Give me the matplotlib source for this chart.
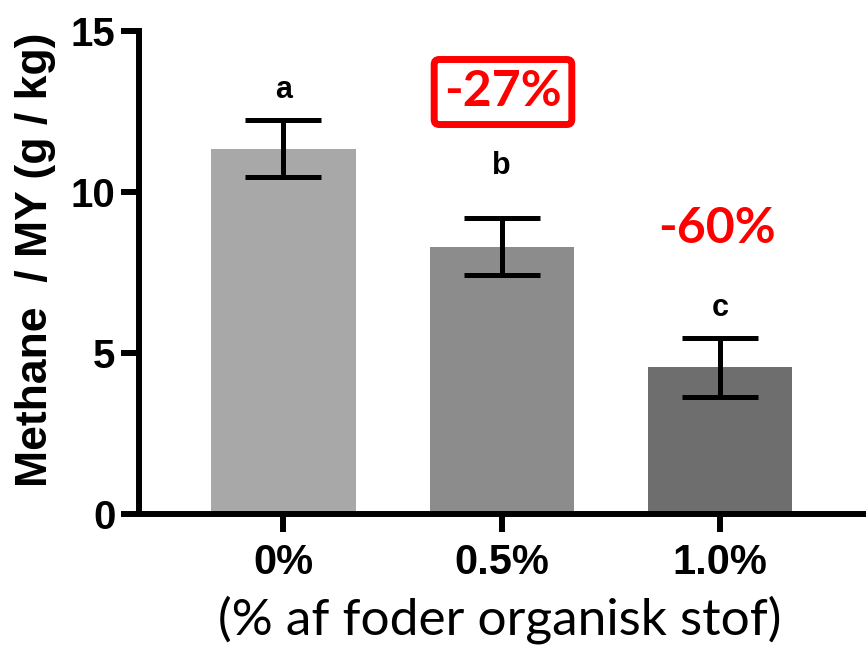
import matplotlib
matplotlib.use("Agg")
import matplotlib.pyplot as plt

# Data
categories = ["0%", "0.5%", "1.0%"]
means = [11.35, 8.3, 4.55]
errors = [0.88, 0.89, 0.92]
letters = ["a", "b", "c"]
letter_offsets = [11, 27, 11]  # points above the error-bar cap
bar_colors = ["#a8a8a8", "#8c8c8c", "#6e6e6e"]
yticks = [0, 5, 10, 15]

W, H = 866, 647
fig = plt.figure(figsize=(W / 100, H / 100), dpi=100)
ax = fig.add_axes([139 / W, 1 - 514 / H, 1 - 139 / W, (514 - 31) / H])

x = list(range(len(categories)))
ax.bar(x, means, width=0.66, color=bar_colors, zorder=1)
ax.errorbar(x, means, yerr=errors, fmt="none", ecolor="black",
            elinewidth=3.6, capsize=27.5, capthick=3.6, zorder=2)

for xi, m, e, lab, off in zip(x, means, errors, letters, letter_offsets):
    ax.annotate(lab, (xi, m + e), xytext=(0, off), textcoords="offset points",
                ha="center", va="bottom", fontsize=22, fontweight="bold",
                family="Liberation Sans")

ax.set_xlim(-0.662, 2.669)
ax.set_ylim(0, 15)
ax.set_xticks(x)
ax.set_xticklabels(categories, fontsize=30, fontweight="bold", family="Liberation Sans")
ax.set_yticks(yticks)
ax.set_yticklabels([str(t) for t in yticks], fontsize=29, fontweight="bold",
                   family="Liberation Sans")
ax.tick_params(axis="both", length=13, width=4.3, pad=4)
ax.tick_params(axis="x", pad=8)

for side in ["top", "right"]:
    ax.spines[side].set_visible(False)
for side in ["left", "bottom"]:
    ax.spines[side].set_linewidth(4.3)

fig.text(15 / W, 1 - 260 / H, "Methane  / MY (g / kg)", rotation=90,
         ha="left", va="center", fontsize=32, fontweight="bold",
         family="Liberation Sans")

fig.text(500 / W, 1 - 620 / H, "(% af foder organisk stof)", ha="center", va="center",
         fontsize=37, fontweight="normal", family="Lato", color="black")

fig.text(503 / W, 1 - 92 / H, "-27%", ha="center", va="center", fontsize=36,
         fontweight="bold", family="Lato", color="#ff0000",
         bbox=dict(boxstyle="round,pad=0.2,rounding_size=0.1", facecolor="white",
                   edgecolor="#ff0000", linewidth=5))
fig.text(717 / W, 1 - 228 / H, "-60%", ha="center", va="center", fontsize=36,
         fontweight="bold", family="Lato", color="#ff0000")

fig.savefig("out.png", dpi=100)
